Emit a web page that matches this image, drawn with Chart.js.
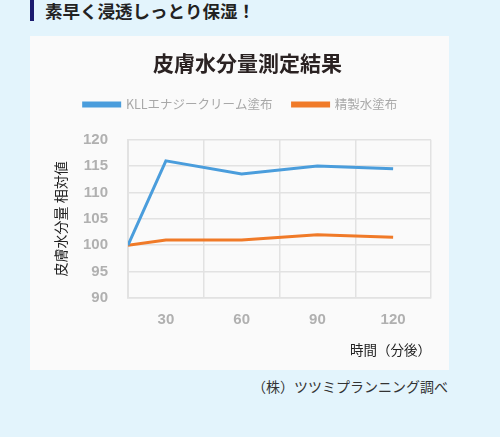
<!DOCTYPE html>
<html lang="ja">
<head>
<meta charset="utf-8">
<script src="https://cdn.jsdelivr.net/npm/chart.js@4/dist/chart.umd.min.js"></script>
<style>
  body {
    margin: 0;
    width: 500px;
    height: 437px;
    background: #e3f4fc;
    font-family: "Noto Sans CJK JP", sans-serif;
    position: relative;
    overflow: hidden;
  }
  .heading {
    position: absolute;
    left: 30px;
    top: 0;
    height: 23px;
    border-left: 4px solid #1a1a6e;
    padding-left: 11px;
    font-size: 17.5px;
    font-weight: bold;
    line-height: 25px;
    margin-top: -2px;
    color: #222;
  }
  .card {
    position: absolute;
    left: 30px;
    top: 36px;
    width: 419px;
    height: 334px;
    background: #fafafa;
  }
  .note {
    position: absolute;
    right: 52px;
    top: 376px;
    font-size: 14px;
    color: #333;
  }
</style>
</head>
<body>
<div class="heading">素早く浸透しっとり保湿！</div>
<div class="card"><canvas id="moistureChart"></canvas></div>
<div class="note">（株）ツツミプランニング調べ</div>

<script>
// minutes after application; the baseline point sits at the left edge of the axis
const times = [15, 30, 60, 90, 120];
const creamValues = [100, 116, 113.5, 115, 114.5];
const waterValues = [100, 101, 101, 102, 101.5];
const seriesNames = ["KLLエナジークリーム塗布", "精製水塗布"];
const tickLabels = [30, 60, 90, 120];

const jp = "'Noto Sans CJK JP', sans-serif";
const num = "'Liberation Sans', Arial, sans-serif";

function toPoints(values) {
  return values.map((v, i) => ({ x: times[i], y: v }));
}

// a bit more room under the legend, and the title sits slightly right of centre
const layoutTweaks = {
  id: "layoutTweaks",
  beforeInit(chart) {
    const fit = chart.legend.fit;
    chart.legend.fit = function () {
      fit.bind(chart.legend)();
      this.height += 19;
    };
  },
  afterLayout(chart) {
    chart.titleBlock.left += 14;
  }
};

const ctx = document.getElementById("moistureChart").getContext("2d");

new Chart(ctx, {
  type: "line",
  data: {
    datasets: [
      {
        label: seriesNames[0],
        data: toPoints(creamValues),
        borderColor: "#4a9ddc",
        backgroundColor: "#4a9ddc",
        borderWidth: 3,
        pointRadius: 0,
        tension: 0
      },
      {
        label: seriesNames[1],
        data: toPoints(waterValues),
        borderColor: "#f07a28",
        backgroundColor: "#f07a28",
        borderWidth: 3,
        pointRadius: 0,
        tension: 0
      }
    ]
  },
  options: {
    responsive: true,
    maintainAspectRatio: false,
    animation: false,
    layout: {
      padding: { left: 20, right: 18, top: 8, bottom: 10 }
    },
    plugins: {
      title: {
        display: true,
        text: "皮膚水分量測定結果",
        color: "#2a2222",
        font: { family: jp, size: 21, weight: "bold" },
        padding: { top: 6, bottom: 3 }
      },
      legend: {
        labels: {
          boxWidth: 36,
          boxHeight: 3,
          color: "#a8a8a8",
          font: { family: jp, size: 12.5 },
          padding: 20
        }
      },
      tooltip: { enabled: false }
    },
    scales: {
      x: {
        type: "linear",
        min: 15,
        max: 135,
        afterBuildTicks: (axis) => {
          const t = [];
          for (let v = 15; v <= 135; v += 15) t.push({ value: v });
          axis.ticks = t;
        },
        afterFit: (scale) => { scale.height = 62; },
        ticks: {
          autoSkip: false,
          maxRotation: 0,
          color: "#b0b0b0",
          font: { family: num, size: 15, weight: "bold" },
          padding: 13,
          callback: (v) => (tickLabels.includes(v) ? String(v) : "")
        },
        grid: {
          drawTicks: false,
          lineWidth: 1.5,
          color: (c) => ((c.tick && c.tick.value % 30 === 15) ? "#e2e2e2" : "rgba(0,0,0,0)")
        },
        border: { color: "#e2e2e2", width: 1.5 },
        title: {
          display: true,
          text: "時間（分後）",
          align: "end",
          color: "#222",
          font: { family: jp, size: 13.5 },
          padding: { top: 0, bottom: 2 }
        }
      },
      y: {
        min: 90,
        max: 120,
        afterFit: (scale) => { scale.width = 78; },
        ticks: {
          stepSize: 5,
          color: "#b0b0b0",
          font: { family: num, size: 15, weight: "bold" },
          padding: 20
        },
        grid: {
          drawTicks: false,
          lineWidth: 1.5,
          color: "#e2e2e2"
        },
        border: { color: "#e2e2e2", width: 2 },
        title: {
          display: true,
          text: "皮膚水分量 相対値",
          color: "#222",
          font: { family: jp, size: 14 },
          padding: { top: 2, bottom: 0 }
        }
      }
    }
  },
  plugins: [layoutTweaks]
});
</script>
</body>
</html>
